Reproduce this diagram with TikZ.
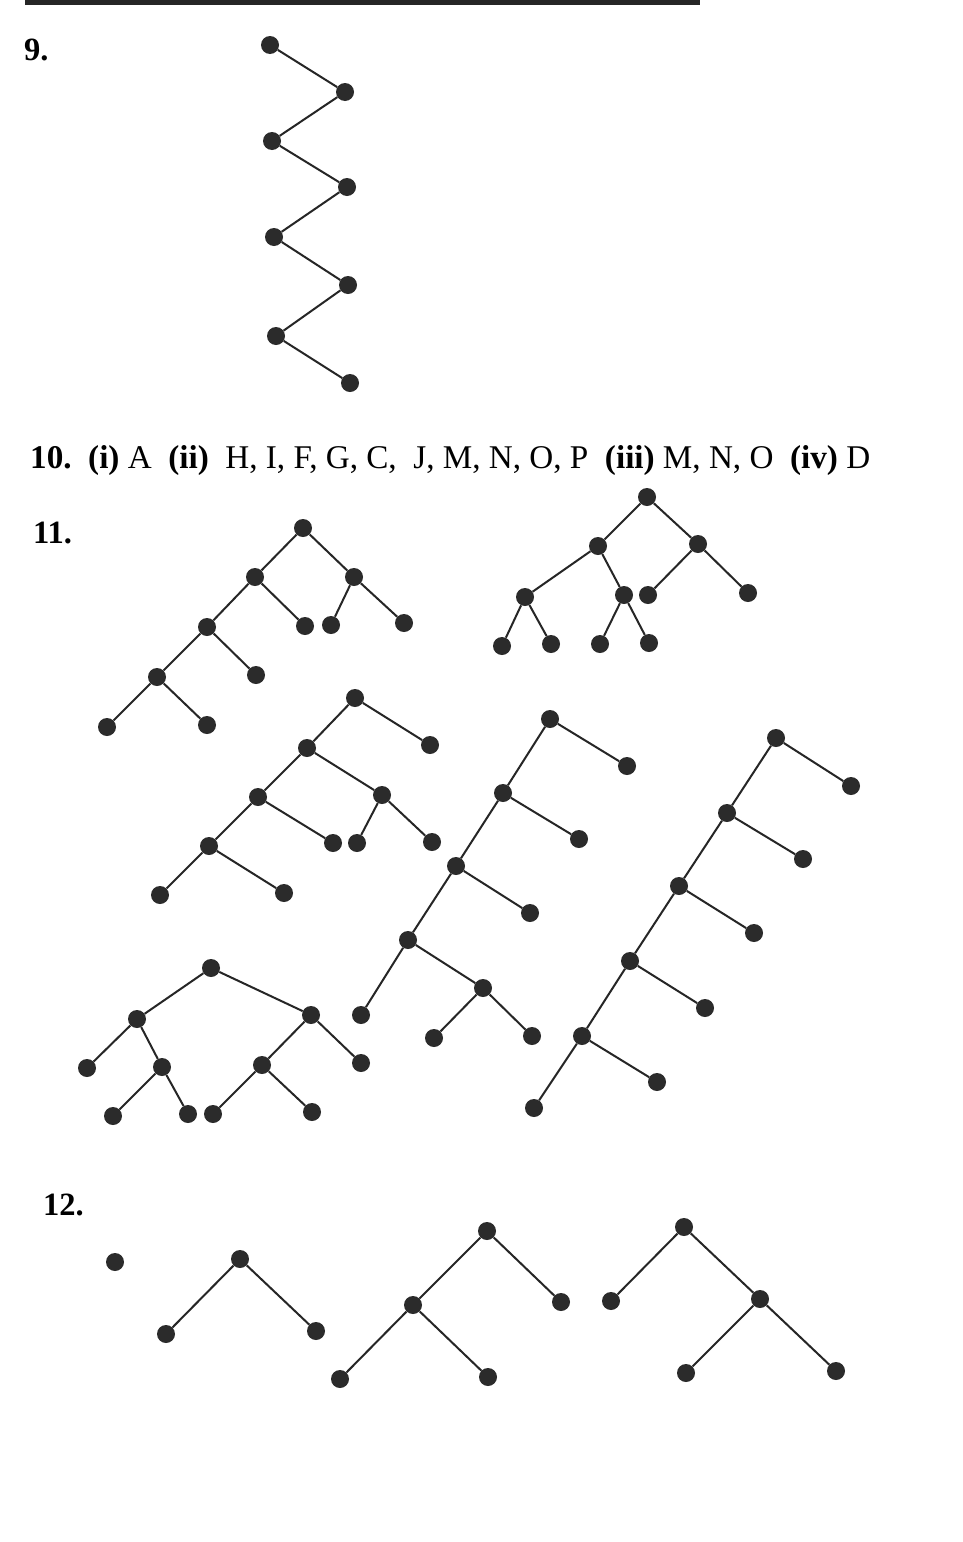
\documentclass[tikz,border=0pt]{standalone}
\usepackage{fontspec}
\setmainfont{Liberation Serif}
\usepackage{graphicx}
\definecolor{ink}{HTML}{2B2B2B}
\definecolor{linecol}{HTML}{262626}
\tikzset{
  dot/.style={circle,fill=ink,draw=none,minimum size=18pt,inner sep=0pt},
  edge/.style={draw=linecol,line width=2pt},
  lab/.style={anchor=base west,inner sep=0pt,font=\fontsize{32.5}{36}\selectfont\bfseries}
}
\begin{document}
\begin{tikzpicture}[x=1pt,y=-1pt]
\useasboundingbox (0,0) rectangle (963,1542);
\fill[white] (0,0) rectangle (963,1542);
% top bar
\fill[black!85] (25,0) rectangle (700,4.5);

% labels
\node[lab] (l9) at (24,60) {9.};
\node[lab] (l11) at (33,543) {11.};
\node[lab] (l12) at (43,1215) {12.};
\node[anchor=base west,inner sep=0pt] (l10) at (30,468) {\resizebox{840pt}{23pt}{\fontsize{32}{36}\selectfont{\bfseries 10.}\ \ {\bfseries (i)} A \ {\bfseries (ii)}\ \ H, I, F, G, C,\ \ J, M, N, O, P\ \ {\bfseries (iii)} M, N, O\ \ {\bfseries (iv)} D}};

% Tree 9
\node[dot] (z1) at (270,45) {};
\node[dot] (z2) at (345,92) {};
\node[dot] (z3) at (272,141) {};
\node[dot] (z4) at (347,187) {};
\node[dot] (z5) at (274,237) {};
\node[dot] (z6) at (348,285) {};
\node[dot] (z7) at (276,336) {};
\node[dot] (z8) at (350,383) {};
\draw[edge] (z1)--(z2) (z2)--(z3) (z3)--(z4) (z4)--(z5) (z5)--(z6) (z6)--(z7) (z7)--(z8);

% Tree 11a
\node[dot] (a1) at (303,528) {};
\node[dot] (a2) at (255,577) {};
\node[dot] (a3) at (354,577) {};
\node[dot] (a4) at (207,627) {};
\node[dot] (a5) at (305,626) {};
\node[dot] (a6) at (331,625) {};
\node[dot] (a7) at (404,623) {};
\node[dot] (a8) at (157,677) {};
\node[dot] (a9) at (256,675) {};
\node[dot] (a10) at (107,727) {};
\node[dot] (a11) at (207,725) {};
\draw[edge] (a1)--(a2) (a1)--(a3) (a2)--(a4) (a2)--(a5) (a3)--(a6) (a3)--(a7) (a4)--(a8) (a4)--(a9) (a8)--(a10) (a8)--(a11);

% Tree 11b
\node[dot] (b1) at (647,497) {};
\node[dot] (b2) at (598,546) {};
\node[dot] (b3) at (698,544) {};
\node[dot] (b4) at (525,597) {};
\node[dot] (b5) at (624,595) {};
\node[dot] (b6) at (648,595) {};
\node[dot] (b7) at (748,593) {};
\node[dot] (b8) at (502,646) {};
\node[dot] (b9) at (551,644) {};
\node[dot] (b10) at (600,644) {};
\node[dot] (b11) at (649,643) {};
\draw[edge] (b1)--(b2) (b1)--(b3) (b2)--(b4) (b2)--(b5) (b3)--(b6) (b3)--(b7) (b4)--(b8) (b4)--(b9) (b5)--(b10) (b5)--(b11);

% Tree 11c
\node[dot] (c1) at (355,698) {};
\node[dot] (c2) at (307,748) {};
\node[dot] (c3) at (430,745) {};
\node[dot] (c4) at (258,797) {};
\node[dot] (c5) at (382,795) {};
\node[dot] (c6) at (209,846) {};
\node[dot] (c7) at (333,843) {};
\node[dot] (c8) at (357,843) {};
\node[dot] (c9) at (432,842) {};
\node[dot] (c10) at (160,895) {};
\node[dot] (c11) at (284,893) {};
\draw[edge] (c1)--(c2) (c1)--(c3) (c2)--(c4) (c2)--(c5) (c4)--(c6) (c4)--(c7) (c5)--(c8) (c5)--(c9) (c6)--(c10) (c6)--(c11);

% Tree 11d
\node[dot] (d1) at (211,968) {};
\node[dot] (d2) at (137,1019) {};
\node[dot] (d3) at (311,1015) {};
\node[dot] (d4) at (87,1068) {};
\node[dot] (d5) at (162,1067) {};
\node[dot] (d6) at (262,1065) {};
\node[dot] (d7) at (361,1063) {};
\node[dot] (d8) at (113,1116) {};
\node[dot] (d9) at (188,1114) {};
\node[dot] (d10) at (213,1114) {};
\node[dot] (d11) at (312,1112) {};
\draw[edge] (d1)--(d2) (d1)--(d3) (d2)--(d4) (d2)--(d5) (d3)--(d6) (d3)--(d7) (d5)--(d8) (d5)--(d9) (d6)--(d10) (d6)--(d11);

% Tree 11e
\node[dot] (e1) at (550,719) {};
\node[dot] (e2) at (627,766) {};
\node[dot] (e3) at (503,793) {};
\node[dot] (e4) at (579,839) {};
\node[dot] (e5) at (456,866) {};
\node[dot] (e6) at (530,913) {};
\node[dot] (e7) at (408,940) {};
\node[dot] (e8) at (483,988) {};
\node[dot] (e9) at (361,1015) {};
\node[dot] (e10) at (434,1038) {};
\node[dot] (e11) at (532,1036) {};
\draw[edge] (e1)--(e2) (e1)--(e3) (e3)--(e4) (e3)--(e5) (e5)--(e6) (e5)--(e7) (e7)--(e8) (e7)--(e9) (e8)--(e10) (e8)--(e11);

% Tree 11f
\node[dot] (f1) at (776,738) {};
\node[dot] (f2) at (851,786) {};
\node[dot] (f3) at (727,813) {};
\node[dot] (f4) at (803,859) {};
\node[dot] (f5) at (679,886) {};
\node[dot] (f6) at (754,933) {};
\node[dot] (f7) at (630,961) {};
\node[dot] (f8) at (705,1008) {};
\node[dot] (f9) at (582,1036) {};
\node[dot] (f10) at (657,1082) {};
\node[dot] (f11) at (534,1108) {};
\draw[edge] (f1)--(f2) (f1)--(f3) (f3)--(f4) (f3)--(f5) (f5)--(f6) (f5)--(f7) (f7)--(f8) (f7)--(f9) (f9)--(f10) (f9)--(f11);

% Tree 12
\node[dot] (g1) at (115,1262) {};
\node[dot] (h1) at (240,1259) {};
\node[dot] (h2) at (166,1334) {};
\node[dot] (h3) at (316,1331) {};
\draw[edge] (h1)--(h2) (h1)--(h3);
\node[dot] (i1) at (487,1231) {};
\node[dot] (i2) at (413,1305) {};
\node[dot] (i3) at (561,1302) {};
\node[dot] (i4) at (340,1379) {};
\node[dot] (i5) at (488,1377) {};
\draw[edge] (i1)--(i2) (i1)--(i3) (i2)--(i4) (i2)--(i5);
\node[dot] (j1) at (684,1227) {};
\node[dot] (j2) at (611,1301) {};
\node[dot] (j3) at (760,1299) {};
\node[dot] (j4) at (686,1373) {};
\node[dot] (j5) at (836,1371) {};
\draw[edge] (j1)--(j2) (j1)--(j3) (j3)--(j4) (j3)--(j5);
\end{tikzpicture}
\end{document}
